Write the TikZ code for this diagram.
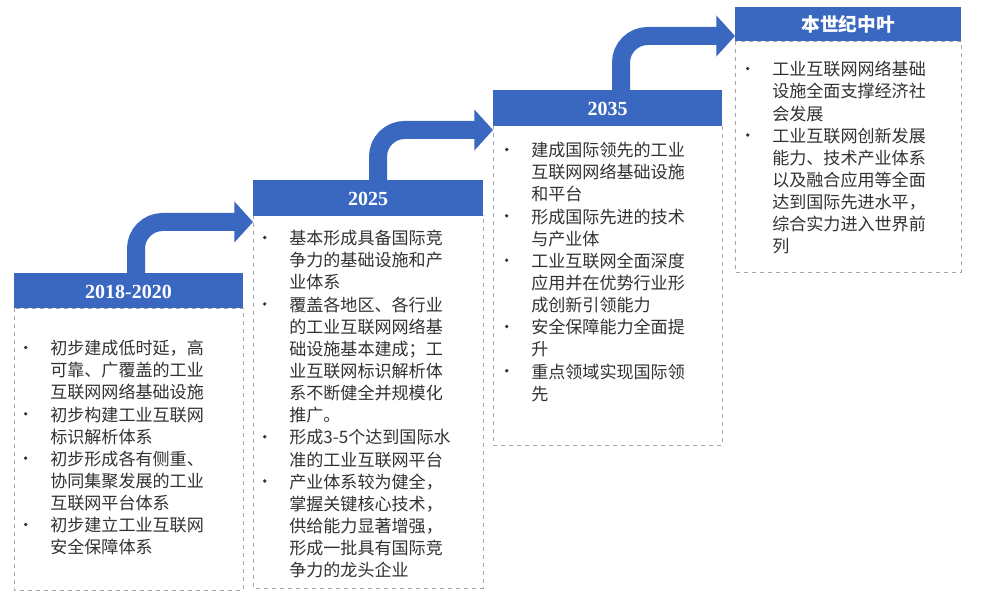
\documentclass[tikz,border=0pt]{standalone}
\usepackage{fontspec}
\setmainfont{Liberation Serif}
\newfontfamily\cjk{Noto Sans CJK SC}
\usetikzlibrary{arrows.meta}
\definecolor{hdr}{RGB}{58,104,192}
\definecolor{txt}{RGB}{50,50,50}
\newcommand{\bu}{\llap{\raisebox{4pt}{\tikz\fill[txt] (0,0) circle (1.4pt);}\hspace{17pt}}}
\begin{document}
\begin{tikzpicture}[x=0.75pt,y=-0.75pt,
  hbox/.style={fill=hdr,draw=none},
  bbox/.style={draw=gray!70,dashed,line width=0.6pt,fill=white},
  htext/.style={text=white,font=\bfseries\fontsize{15}{18}\selectfont},
  btext/.style={anchor=north west,align=left,inner sep=0pt,text=txt,font=\cjk\fontsize{12.8}{16.6}\selectfont},
  flow/.style={draw=hdr,line width=13.5pt,rounded corners=20pt,-{Triangle[width=30pt,length=14pt]}}]
\useasboundingbox (0,0) rectangle (1000,602);
\fill[white] (0,0) rectangle (1000,602);
% bodies
\draw[bbox] (14,308) rectangle (243,590);
\draw[bbox] (253,215) rectangle (483,588);
\draw[bbox] (493,125) rectangle (722,445);
\draw[bbox] (735,41) rectangle (961,272);
% arrows
\coordinate (a1s) at (136,274); \coordinate (a1t) at (253,222);
\coordinate (a2s) at (378,181); \coordinate (a2t) at (493,130);
\coordinate (a3s) at (621,91); \coordinate (a3t) at (735,36);
\draw[flow] (a1s) |- (a1t);
\draw[flow] (a2s) |- (a2t);
\draw[flow] (a3s) |- (a3t);
% headers
\fill[hbox] (14,273) rectangle (243,308);
\fill[hbox] (253,180) rectangle (483,216);
\fill[hbox] (493,90) rectangle (722,126);
\fill[hbox] (735,7) rectangle (961,41);
\node[htext] (h1) at (128.5,292) {2018-2020};
\node[htext] (h2) at (368,199) {2025};
\node[htext] (h3) at (607.5,109) {2035};
\node[htext,font=\cjk\bfseries\fontsize{14}{18}\selectfont] (h4) at (848,24) {本世纪中叶};
% texts
\node[btext] (t1) at (50,340) {\bu 初步建成低时延，高\\可靠、广覆盖的工业\\互联网网络基础设施\\\bu 初步构建工业互联网\\标识解析体系\\\bu 初步形成各有侧重、\\协同集聚发展的工业\\互联网平台体系\\\bu 初步建立工业互联网\\安全保障体系};
\node[btext] (t2) at (289,230) {\bu 基本形成具备国际竞\\争力的基础设施和产\\业体系\\\bu 覆盖各地区、各行业\\的工业互联网网络基\\础设施基本建成；工\\业互联网标识解析体\\系不断健全并规模化\\推广。\\\bu 形成3-5个达到国际水\\准的工业互联网平台\\\bu 产业体系较为健全，\\掌握关键核心技术，\\供给能力显著增强，\\形成一批具有国际竞\\争力的龙头企业};
\node[btext] (t3) at (531,142) {\bu 建成国际领先的工业\\互联网网络基础设施\\和平台\\\bu 形成国际先进的技术\\与产业体\\\bu 工业互联网全面深度\\应用并在优势行业形\\成创新引领能力\\\bu 安全保障能力全面提\\升\\\bu 重点领域实现国际领\\先};
\node[btext] (t4) at (772,61) {\bu 工业互联网网络基础\\设施全面支撑经济社\\会发展\\\bu 工业互联网创新发展\\能力、技术产业体系\\以及融合应用等全面\\达到国际先进水平，\\综合实力进入世界前\\列};
\end{tikzpicture}
\end{document}
